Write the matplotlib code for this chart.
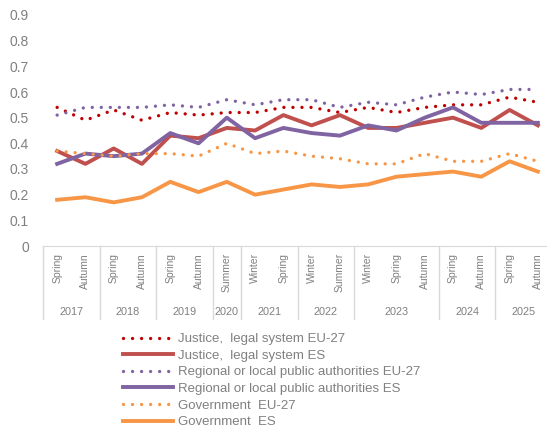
import numpy as np
import matplotlib.pyplot as plt

plt.rcParams['font.family'] = ['Liberation Sans', 'DejaVu Sans']

# waves: season and year of each survey
seasons = ["Spring", "Autumn", "Spring", "Autumn", "Spring", "Autumn", "Summer",
           "Winter", "Spring", "Winter", "Summer", "Winter", "Spring", "Autumn",
           "Spring", "Autumn", "Spring", "Autumn"]
years = ["2017", "2018", "2019", "2020", "2021", "2022", "2023", "2024", "2025"]
waves_per_year = [2, 2, 2, 1, 2, 2, 3, 2, 2]

justice_eu = [0.54, 0.49, 0.53, 0.49, 0.52, 0.51, 0.52, 0.52, 0.54, 0.54,
              0.52, 0.54, 0.52, 0.54, 0.55, 0.55, 0.58, 0.56]
justice_es = [0.37, 0.32, 0.38, 0.32, 0.43, 0.42, 0.46, 0.45, 0.51, 0.47,
              0.51, 0.46, 0.46, 0.48, 0.50, 0.46, 0.53, 0.47]
regional_eu = [0.51, 0.54, 0.54, 0.54, 0.55, 0.54, 0.57, 0.55, 0.57, 0.57,
               0.54, 0.56, 0.55, 0.58, 0.60, 0.59, 0.61, 0.61]
regional_es = [0.32, 0.36, 0.35, 0.36, 0.44, 0.40, 0.50, 0.42, 0.46, 0.44,
               0.43, 0.47, 0.45, 0.50, 0.54, 0.48, 0.48, 0.48]
government_eu = [0.37, 0.36, 0.35, 0.36, 0.36, 0.35, 0.40, 0.36, 0.37, 0.35,
                 0.34, 0.32, 0.32, 0.36, 0.33, 0.33, 0.36, 0.33]
government_es = [0.18, 0.19, 0.17, 0.19, 0.25, 0.21, 0.25, 0.20, 0.22, 0.24,
                 0.23, 0.24, 0.27, 0.28, 0.29, 0.27, 0.33, 0.29]

grey = '#808080'
sep = '#D9D9D9'
dots = (0, (0.01, 2.7))

fig = plt.figure(figsize=(5.47, 4.28), dpi=100)
ax = fig.add_axes([43/547, 1-246/428, 509/547, 231/428])

x = np.arange(len(seasons))
ax.plot(x, justice_eu, color='#C00000', lw=2.4, ls=dots, dash_capstyle='round',
        label='Justice,  legal system EU-27')
ax.plot(x, justice_es, color='#C0504D', lw=2.8, label='Justice,  legal system ES')
ax.plot(x, regional_eu, color='#8064A2', lw=2.4, ls=dots, dash_capstyle='round',
        label='Regional or local public authorities EU-27')
ax.plot(x, regional_es, color='#8064A2', lw=2.8,
        label='Regional or local public authorities ES')
ax.plot(x, government_eu, color='#F79646', lw=2.4, ls=dots, dash_capstyle='round',
        label='Government  EU-27')
ax.plot(x, government_es, color='#F79646', lw=2.8, label='Government  ES')

ax.set_xlim(-0.5, len(seasons) - 0.5)
ax.set_ylim(0, 0.9)
ax.set_yticks(np.arange(0, 0.91, 0.1))
ax.set_yticklabels(['0'] + ['%.1f' % v for v in np.arange(0.1, 0.91, 0.1)])
ax.tick_params(axis='y', length=0, pad=10, labelsize=10, labelcolor=grey)

ax.set_xticks(x)
ax.set_xticklabels(seasons, rotation=90, va='top', ha='center')
ax.tick_params(axis='x', length=0, pad=5, labelsize=7.5, labelcolor=grey)

for s in ['top', 'right', 'left']:
    ax.spines[s].set_visible(False)
ax.spines['bottom'].set_color(sep)

# year groups below the season labels
trans = ax.get_xaxis_transform()
edges = np.concatenate([[0], np.cumsum(waves_per_year)]) - 0.5
for e in edges:
    ax.plot([e, e], [0, -0.316], color=sep, lw=1, transform=trans, clip_on=False)
for i, yr in enumerate(years):
    ax.text((edges[i] + edges[i+1]) / 2, -0.286, yr, transform=trans,
            ha='center', va='center', fontsize=7.8, color=grey)

fig.legend(loc='upper left', bbox_to_anchor=(123/547, 1-333/428), frameon=False,
           fontsize=9.5, handlelength=3.8, handletextpad=0.4, labelspacing=0.33,
           borderpad=0, borderaxespad=0, labelcolor=grey)

fig.savefig('out.png', dpi=100)
